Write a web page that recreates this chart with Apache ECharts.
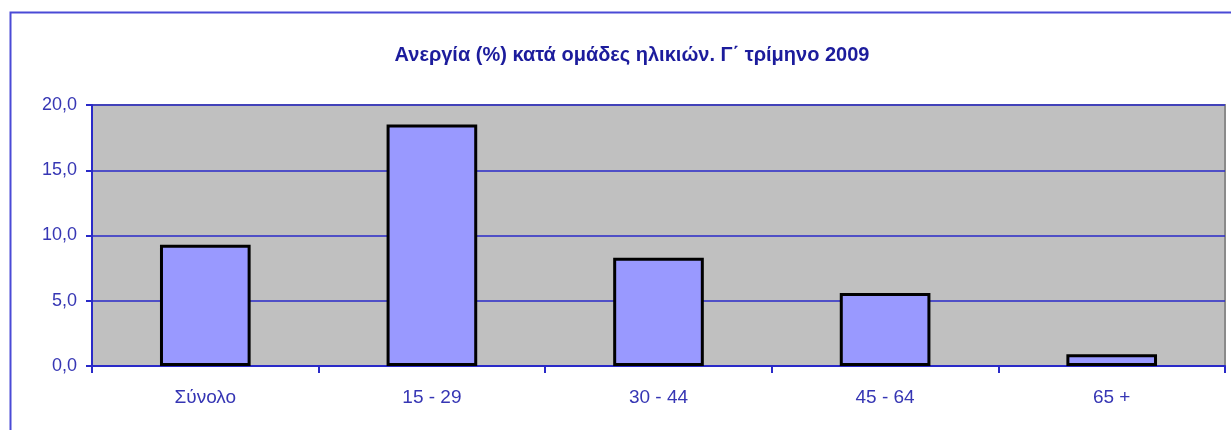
<!DOCTYPE html>
<html>
<head>
<meta charset="utf-8">
<script src="https://cdn.jsdelivr.net/npm/echarts@6/dist/echarts.min.js"></script>
<style>
  html, body { margin: 0; padding: 0; background: #fff; }
  #chart { width: 1231px; height: 430px; }
</style>
</head>
<body>
<div id="chart"></div>
<script>
const categories = ['Σύνολο', '15 - 29', '30 - 44', '45 - 64', '65 +'];
const unemployment = [9.3, 18.5, 8.3, 5.6, 0.9];
const yTicks = [0, 5, 10, 15, 20];

const myChart = echarts.init(document.getElementById('chart'));

const blue = '#2a2ac8';
const labelBlue = '#3636b4';

const option = {
  animation: false,
  title: {
    text: 'Ανεργία (%) κατά ομάδες ηλικιών. Γ΄ τρίμηνο 2009',
    left: 627,
    top: 40,
    textAlign: 'center',
    textStyle: {
      fontFamily: 'Liberation Sans, Arial',
      fontSize: 20,
      fontWeight: 'bold',
      color: '#1c1c9c'
    }
  },
  graphic: [
    {
      type: 'rect',
      shape: { x: 10.5, y: 12.5, width: 1300, height: 500 },
      style: { fill: 'none', stroke: '#4a4ad6', lineWidth: 2 },
      silent: true
    }
  ],
  grid: {
    left: 92,
    right: 6,
    top: 105,
    bottom: 64,
    show: true,
    backgroundColor: '#c0c0c0',
    borderColor: '#8a8a8a',
    borderWidth: 2
  },
  xAxis: {
    type: 'category',
    data: categories,
    boundaryGap: true,
    axisLine: { lineStyle: { color: blue, width: 2 } },
    axisTick: { show: true, length: 7, lineStyle: { color: blue, width: 2 } },
    axisLabel: {
      margin: 22,
      fontFamily: 'Liberation Sans, Arial',
      fontSize: 19,
      color: labelBlue
    }
  },
  yAxis: {
    type: 'value',
    min: yTicks[0],
    max: yTicks[yTicks.length - 1],
    interval: 5,
    axisLine: { show: true, lineStyle: { color: blue, width: 2 } },
    axisTick: { show: true, length: 6, lineStyle: { color: blue, width: 2 } },
    splitLine: { show: true, lineStyle: { color: blue, width: 1.5 } },
    axisLabel: {
      margin: 15,
      fontFamily: 'Liberation Sans, Arial',
      fontSize: 18,
      color: labelBlue,
      formatter: v => v.toFixed(1).replace('.', ',')
    }
  },
  series: [
    {
      type: 'bar',
      data: unemployment,
      barWidth: '40%',
      itemStyle: {
        color: '#9999ff',
        borderColor: '#000',
        borderWidth: 3
      }
    }
  ]
};

myChart.setOption(option);
</script>
</body>
</html>
